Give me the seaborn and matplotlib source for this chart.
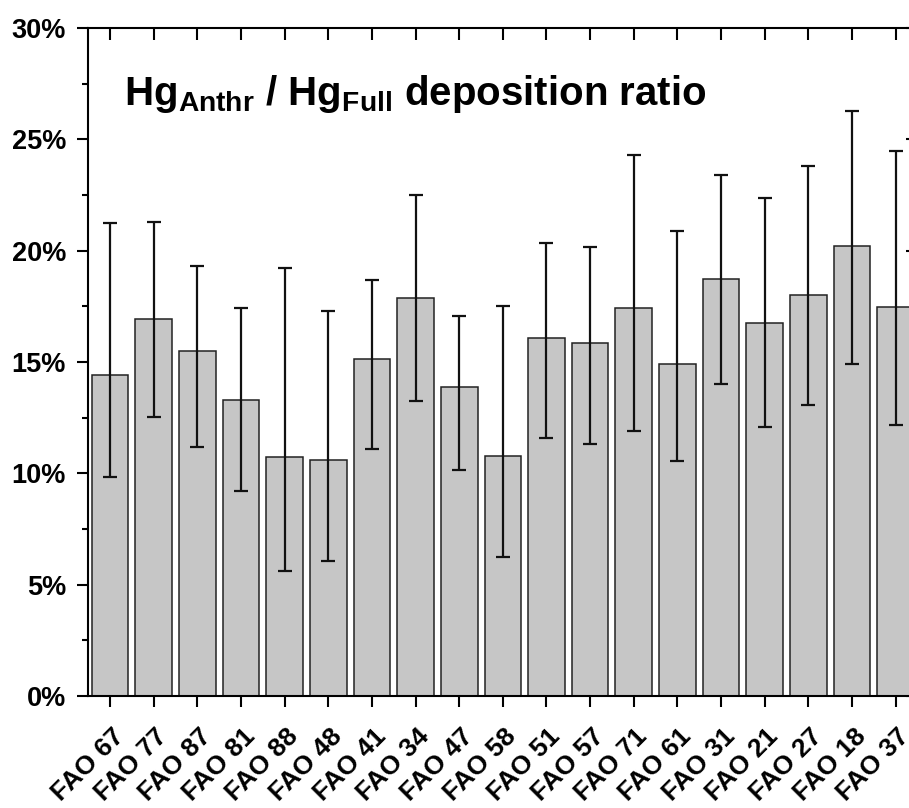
import numpy as np
import pandas as pd
import matplotlib
matplotlib.use("Agg")
import matplotlib.pyplot as plt
from matplotlib.ticker import MultipleLocator, FuncFormatter
from matplotlib.transforms import ScaledTranslation
import seaborn as sns

# ---- data (percent) ----
regions = ["FAO 67", "FAO 77", "FAO 87", "FAO 81", "FAO 88", "FAO 48", "FAO 41",
           "FAO 34", "FAO 47", "FAO 58", "FAO 51", "FAO 57", "FAO 71", "FAO 61",
           "FAO 31", "FAO 21", "FAO 27", "FAO 18", "FAO 37"]
ratio = [14.43, 16.91, 15.49, 13.29, 10.75, 10.60, 15.15,
         17.87, 13.88, 10.76, 16.08, 15.87, 17.44, 14.92,
         18.71, 16.76, 17.99, 20.19, 17.47]
err_low = [9.85, 12.51, 11.19, 9.21, 5.63, 6.08, 11.08,
           13.25, 10.16, 6.23, 11.60, 11.32, 11.91, 10.55,
           14.02, 12.07, 13.08, 14.89, 12.18]
err_high = [21.23, 21.27, 19.31, 17.41, 19.20, 17.29, 18.68,
            22.51, 17.06, 17.50, 20.33, 20.18, 24.29, 20.88,
            23.41, 22.36, 23.79, 26.27, 24.49]
y_ticks = [0, 5, 10, 15, 20, 25, 30]

sns.set_style("ticks")
plt.rcParams["font.family"] = ["Liberation Sans", "DejaVu Sans"]
plt.rcParams["font.weight"] = "bold"
plt.rcParams["text.color"] = "black"
plt.rcParams["xtick.color"] = "black"
plt.rcParams["ytick.color"] = "black"
plt.rcParams["axes.edgecolor"] = "black"
plt.rcParams["mathtext.fontset"] = "custom"
plt.rcParams["mathtext.bf"] = "Liberation Sans:bold"
plt.rcParams["mathtext.rm"] = "Liberation Sans:bold"
plt.rcParams["mathtext.it"] = "Liberation Sans:bold"

df = pd.DataFrame({"region": regions, "ratio": ratio,
                   "low": err_low, "high": err_high})

fig = plt.figure(figsize=(9.09, 8.08), dpi=100)
ax = fig.add_axes([88.2 / 909, 112 / 808, 829.3 / 909, 668 / 808])

sns.barplot(data=df, x="region", y="ratio", color="#c6c6c6", saturation=1,
            edgecolor="#222222", linewidth=1.1, width=0.84, errorbar=None, ax=ax)

ratio_arr = df["ratio"].to_numpy()
yerr = np.vstack([ratio_arr - df["low"].to_numpy(), df["high"].to_numpy() - ratio_arr])
ax.errorbar(np.arange(len(df)), ratio_arr, yerr=yerr, fmt="none",
            ecolor="#111111", elinewidth=1.6, capsize=5.2, capthick=1.6, zorder=5)

ax.set_xlim(-0.5, len(df) - 0.5)
ax.set_ylim(0, 30)
ax.set_xlabel("")
ax.set_ylabel("")

ax.set_yticks(y_ticks)
ax.yaxis.set_minor_locator(MultipleLocator(2.5))
ax.yaxis.set_major_formatter(FuncFormatter(lambda v, p: f"{v:.0f}%"))

for s in ax.spines.values():
    s.set_visible(True)
    s.set_linewidth(1.5)
    s.set_color("black")

ax.tick_params(axis="y", which="major", direction="out", length=8, width=1.5,
               labelsize=19.5, pad=8, left=True, right=False, colors="black")
ax.tick_params(axis="y", which="minor", direction="out", length=4.3, width=1.5,
               left=True, right=False, colors="black")
ax.tick_params(axis="x", which="major", direction="out", length=8, width=1.5,
               labelsize=19, pad=18.5, bottom=True, top=False, colors="black")

# inward ticks on the top and right spines
secx = ax.secondary_xaxis("top")
secx.set_xticks(np.arange(len(df)))
secx.tick_params(direction="in", length=8.5, width=1.5, labeltop=False, colors="black")
secx.spines["top"].set_visible(False)
secy = ax.secondary_yaxis("right")
secy.set_yticks(y_ticks)
secy.yaxis.set_minor_locator(MultipleLocator(2.5))
secy.tick_params(which="major", direction="in", length=8.5, width=1.5,
                 labelright=False, colors="black")
secy.tick_params(which="minor", direction="in", length=4.3, width=1.5,
                 labelright=False, colors="black")
secy.spines["right"].set_visible(False)

for lbl in ax.get_yticklabels():
    lbl.set_fontweight("bold")
    lbl.set_color("black")
for lbl in ax.get_xticklabels():
    lbl.set_rotation(45)
    lbl.set_ha("right")
    lbl.set_va("center")
    lbl.set_rotation_mode("anchor")
    lbl.set_fontweight("bold")
    lbl.set_color("black")
    lbl.set_transform(lbl.get_transform() + ScaledTranslation(0.10, 0, fig.dpi_scale_trans))

ax.text(0.0435, 0.885,
        r"$\mathbf{Hg}_{\mathbf{Anthr}}$ / $\mathbf{Hg}_{\mathbf{Full}}$ deposition ratio",
        transform=ax.transAxes, fontsize=29, fontweight="bold", va="baseline",
        ha="left", color="black")

fig.savefig("out.png", dpi=100)
